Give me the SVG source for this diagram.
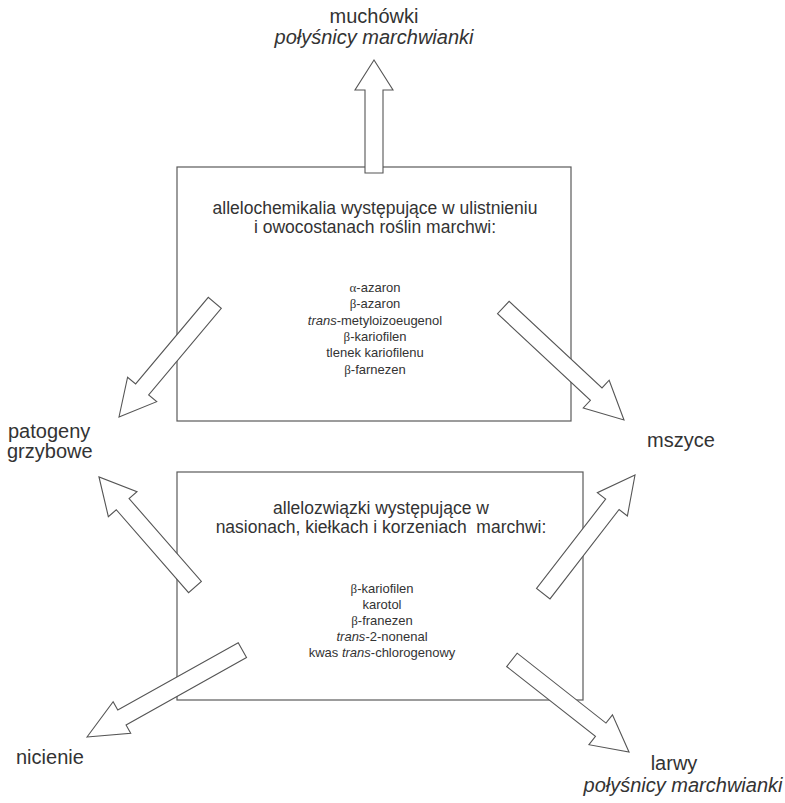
<svg xmlns="http://www.w3.org/2000/svg" width="785" height="803" viewBox="0 0 785 803">
<style>
  .box { fill: none; stroke: #5a5a5a; stroke-width: 1.2; }
  .arrow { fill: #ffffff; stroke: #555555; stroke-width: 1.1; stroke-linejoin: miter; }
  .lbl { font-family: "Liberation Sans", Arial, sans-serif; font-size: 20px; fill: #333333; }
  .ttl { font-family: "Liberation Sans", Arial, sans-serif; font-size: 17.5px; fill: #333333; text-anchor: middle; }
  .lst { font-family: "Liberation Sans", Arial, sans-serif; font-size: 13px; fill: #333333; text-anchor: middle; }
  .gr { font-family: "Liberation Serif", "Times New Roman", serif; }
  .it { font-style: italic; }
</style>
<rect width="785" height="803" fill="#ffffff"/>

<g id="box-top">
  <rect class="box" x="177" y="167" width="394" height="254"/>
  <text class="ttl" x="375" y="214">allelochemikalia występujące w ulistnieniu</text>
  <text class="ttl" x="375" y="233">i owocostanach roślin marchwi:</text>
  <text class="lst" x="375" y="292"><tspan class="gr">α</tspan>-azaron</text>
  <text class="lst" x="375" y="308.3"><tspan class="gr">β</tspan>-azaron</text>
  <text class="lst" x="375" y="324.6"><tspan class="it">trans</tspan>-metyloizoeugenol</text>
  <text class="lst" x="375" y="341"><tspan class="gr">β</tspan>-kariofilen</text>
  <text class="lst" x="375" y="357.2">tlenek kariofilenu</text>
  <text class="lst" x="375" y="373.5"><tspan class="gr">β</tspan>-farnezen</text>
</g>

<g id="box-bottom">
  <rect class="box" x="177" y="472" width="406" height="228"/>
  <text class="ttl" x="381" y="514">allelozwiązki występujące w</text>
  <text class="ttl" x="381" y="533" xml:space="preserve">nasionach, kiełkach i korzeniach  marchwi:</text>
  <text class="lst" x="382" y="593"><tspan class="gr">β</tspan>-kariofilen</text>
  <text class="lst" x="382" y="609">karotol</text>
  <text class="lst" x="382" y="625"><tspan class="gr">β</tspan>-franezen</text>
  <text class="lst" x="382" y="641"><tspan class="it">trans</tspan>-2-nonenal</text>
  <text class="lst" x="382" y="657">kwas <tspan class="it">trans</tspan>-chlorogenowy</text>
</g>

<g id="connectors">
  <polygon class="arrow" transform="translate(374,60) rotate(-90)" points="0,0 -30,-19 -30,-9 -113,-9 -113,9 -30,9 -30,19"/>
  <polygon class="arrow" transform="translate(119,417) rotate(130)" points="0,0 -36,-19 -36,-8.5 -149,-8.5 -149,8.5 -36,8.5 -36,19"/>
  <polygon class="arrow" transform="translate(624,420) rotate(43)" points="0,0 -38,-19 -38,-8.5 -165,-8.5 -165,8.5 -38,8.5 -38,19"/>
  <polygon class="arrow" transform="translate(99,477) rotate(-131.1)" points="0,0 -36,-19 -36,-8.5 -146,-8.5 -146,8.5 -36,8.5 -36,19"/>
  <polygon class="arrow" transform="translate(635,475) rotate(-52.3)" points="0,0 -37,-19 -37,-8.5 -150,-8.5 -150,8.5 -37,8.5 -37,19"/>
  <polygon class="arrow" transform="translate(87,737) rotate(150.8)" points="0,0 -40,-18 -40,-8.5 -178,-8.5 -178,8.5 -40,8.5 -40,18"/>
  <polygon class="arrow" transform="translate(629,752) rotate(38.2)" points="0,0 -36,-19 -36,-8.5 -149,-8.5 -149,8.5 -36,8.5 -36,19"/>
</g>

<g id="label-muchowki">
  <text class="lbl" x="374" y="23" text-anchor="middle">muchówki</text>
  <text class="lbl it" x="374" y="44" text-anchor="middle">połyśnicy marchwianki</text>
</g>
<g id="label-patogeny">
  <text class="lbl" x="8" y="438">patogeny</text>
  <text class="lbl" x="7" y="458">grzybowe</text>
</g>
<g id="label-mszyce">
  <text class="lbl" x="647" y="447">mszyce</text>
</g>
<g id="label-nicienie">
  <text class="lbl" x="16" y="764">nicienie</text>
</g>
<g id="label-larwy">
  <text class="lbl" x="674" y="770" text-anchor="middle">larwy</text>
  <text class="lbl it" x="683" y="792" text-anchor="middle">połyśnicy marchwianki</text>
</g>
</svg>
